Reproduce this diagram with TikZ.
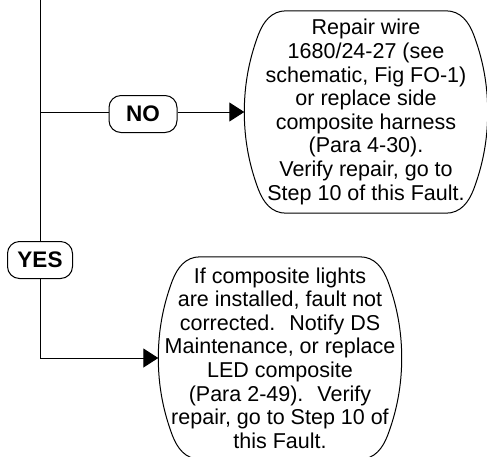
\documentclass[tikz,border=0pt]{standalone}
\usepackage{fontspec}
\setmainfont{Liberation Sans}
\usetikzlibrary{arrows.meta,calc}
\tikzset{
  txt/.style={font=\fontsize{21.5}{23.6}\selectfont, align=center, inner sep=0pt,
              minimum width=243pt, minimum height=202pt},
  lbl/.style={draw, line width=1pt, rounded corners=12pt, font=\fontsize{22.5}{24}\selectfont\bfseries,
              inner sep=0pt, minimum height=37pt},
  conn/.style={line width=1pt},
  arr/.style={line width=1pt, -{Triangle[length=15pt,width=19pt]}},
  bubble/.style={line width=1pt}
}
\begin{document}
\begin{tikzpicture}[x=1pt,y=-1pt]
\useasboundingbox (0,0) rectangle (487,456);
% text boxes
\node[txt] (b1) at (366,112) {Repair wire\\1680/24-27 (see\\schematic, Fig FO-1)\\or replace side\\composite harness\\(Para 4-30).\\Verify repair, go to\\Step 10 of this Fault.};
\node[txt] (b2) at (280,358) {If composite lights\\are installed, fault not\\corrected.~ Notify DS\\Maintenance, or replace\\LED composite\\(Para 2-49).~ Verify\\repair, go to Step 10 of\\this Fault.};
% bubble outlines
\foreach \b in {b1,b2}{
  \draw[bubble]
    ($(\b.north west)+(42,0)$) -- ($(\b.north east)+(-42,0)$)
    .. controls ($(\b.north east)+(-27,0)$) and ($(\b.north east)+(-19,11)$) .. ($(\b.north east)+(-14,24)$)
    .. controls ($(\b.north east)+(-5,48)$) and ($(\b.east)+(0,-28)$) .. (\b.east)
    .. controls ($(\b.east)+(0,28)$) and ($(\b.south east)+(-5,-48)$) .. ($(\b.south east)+(-14,-24)$)
    .. controls ($(\b.south east)+(-19,-11)$) and ($(\b.south east)+(-27,0)$) .. ($(\b.south east)+(-42,0)$)
    -- ($(\b.south west)+(42,0)$)
    .. controls ($(\b.south west)+(27,0)$) and ($(\b.south west)+(19,-11)$) .. ($(\b.south west)+(14,-24)$)
    .. controls ($(\b.south west)+(5,-48)$) and ($(\b.west)+(0,28)$) .. (\b.west)
    .. controls ($(\b.west)+(0,-28)$) and ($(\b.north west)+(5,48)$) .. ($(\b.north west)+(14,24)$)
    .. controls ($(\b.north west)+(19,11)$) and ($(\b.north west)+(27,0)$) .. ($(\b.north west)+(42,0)$) -- cycle;
}
% labels
\node[lbl, minimum width=68pt] (no) at (143,114) {NO};
\node[lbl, minimum width=65pt] (yes) at (40,260) {YES};
% connectors
\coordinate (top) at (40,0);
\coordinate (j1) at (40,112);
\coordinate (c2) at (40,358);
\draw[conn] (top) -- (yes.north);
\draw[conn] (j1) -- (j1 -| no.west);
\draw[arr] (no.east |- j1) -- (b1.west);
\draw[arr] (yes.south) -- (c2) -- (b2.west);
\end{tikzpicture}
\end{document}
